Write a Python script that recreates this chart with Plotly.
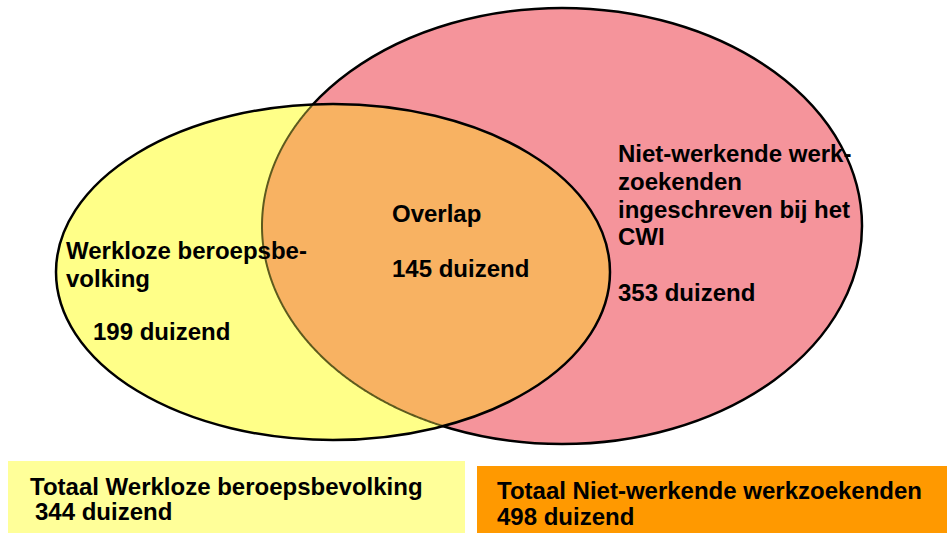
import numpy as np
import plotly.graph_objects as go

# ---- data ----
left_label_lines = ["Werkloze beroepsbe-", "volking"]
left_value = 199
overlap_label = "Overlap"
overlap_value = 145
right_label_lines = ["Niet-werkende werk-", "zoekenden", "ingeschreven bij het", "CWI"]
right_value = 353
total_left_label = "Totaal Werkloze beroepsbevolking"
total_left_value = 344
total_right_label = "Totaal Niet-werkende werkzoekenden"
total_right_value = 498
unit = "duizend"

# ---- geometry (pixel-like coordinates) ----
W, H = 947, 533
yel = dict(cx=333, cy=272, rx=277, ry=168)
red = dict(cx=562, cy=226, rx=300, ry=218)

RED_FILL = "#F5949B"
YEL_FILL = "#FFFF88"
OVL_FILL = "#F8B262"
BOX_L = "#FFFF99"
BOX_R = "#FF9900"

def pts(e, n=1440):
    t = np.linspace(0, 2 * np.pi, n, endpoint=False)
    return e["cx"] + e["rx"] * np.cos(t), e["cy"] + e["ry"] * np.sin(t), t

def inside(e, x, y):
    return ((x - e["cx"]) / e["rx"]) ** 2 + ((y - e["cy"]) / e["ry"]) ** 2 <= 1

yx, yy, yt = pts(yel)
rx_, ry_, rt = pts(red)
m1 = inside(red, yx, yy)
m2 = inside(yel, rx_, ry_)
ox = np.concatenate([yx[m1], rx_[m2]])
oy = np.concatenate([yy[m1], ry_[m2]])
ang = np.arctan2(oy - oy.mean(), ox - ox.mean())
order = np.argsort(ang)
ox, oy = ox[order], oy[order]
overlap_path = "M " + " L ".join(f"{a:.2f},{b:.2f}" for a, b in zip(ox, oy)) + " Z"

# red outline arc inside yellow (seen through yellow)
ax_, ay_, at_ = rx_[m2], ry_[m2], rt[m2]
o2 = np.argsort(at_)
arc_path = "M " + " L ".join(f"{a:.2f},{b:.2f}" for a, b in zip(ax_[o2], ay_[o2]))

def ell(e, fill, line_color, lw):
    return dict(type="circle", xref="x", yref="y",
                x0=e["cx"] - e["rx"], x1=e["cx"] + e["rx"],
                y0=e["cy"] - e["ry"], y1=e["cy"] + e["ry"],
                fillcolor=fill, line=dict(color=line_color, width=lw))

shapes = [
    ell(red, RED_FILL, "black", 2.5),
    ell(yel, YEL_FILL, "rgba(0,0,0,0)", 0),
    dict(type="path", xref="x", yref="y", path=overlap_path,
         fillcolor=OVL_FILL, line=dict(width=0)),
    dict(type="path", xref="x", yref="y", path=arc_path,
         line=dict(color="#5E5A1E", width=2)),
    ell(yel, "rgba(0,0,0,0)", "black", 2.5),
    dict(type="rect", xref="x", yref="y", x0=8, x1=465, y0=461, y1=533,
         fillcolor=BOX_L, line=dict(width=0)),
    dict(type="rect", xref="x", yref="y", x0=477, x1=947, y0=466, y1=533,
         fillcolor=BOX_R, line=dict(width=0)),
]

FONT = dict(family="Liberation Sans, Arial, sans-serif", size=24, color="black", weight="bold")

def ann(text, x, y):
    return dict(text=text, x=x, y=y, xref="x", yref="y", xanchor="left",
                yanchor="middle", showarrow=False, font=FONT, align="left")

annotations = []
for line, yc in zip(left_label_lines, [250.6, 278.6]):
    annotations.append(ann(line, 64, yc))
annotations.append(ann(f"{left_value} {unit}", 91, 331.6))
annotations.append(ann(overlap_label, 390, 213.6))
annotations.append(ann(f"{overlap_value} {unit}", 390, 268.6))
for line, yc in zip(right_label_lines, [153.6, 181.3, 209.0, 236.7]):
    annotations.append(ann(line, 616, yc))
annotations.append(ann(f"{right_value} {unit}", 616, 292.0))
annotations.append(ann(total_left_label, 28, 486.6))
annotations.append(ann(f"{total_left_value} {unit}", 33, 511.6))
annotations.append(ann(total_right_label, 495, 490.6))
annotations.append(ann(f"{total_right_value} {unit}", 495, 516.6))

fig = go.Figure()
fig.update_layout(
    width=W, height=H,
    margin=dict(l=0, r=0, t=0, b=0),
    paper_bgcolor="white", plot_bgcolor="white",
    xaxis=dict(range=[0, W], visible=False, fixedrange=True),
    yaxis=dict(range=[H, 0], visible=False, fixedrange=True),
    shapes=shapes, annotations=annotations,
    showlegend=False,
)
fig.write_html("out.html", config=dict(displayModeBar=False))

# remove default page margin so the figure sits at the window's top-left corner
with open("out.html", "r", encoding="utf-8") as f:
    html = f.read()
html = html.replace("<head>", "<head><style>html,body{margin:0;padding:0;overflow:hidden;}</style>", 1)
with open("out.html", "w", encoding="utf-8") as f:
    f.write(html)
